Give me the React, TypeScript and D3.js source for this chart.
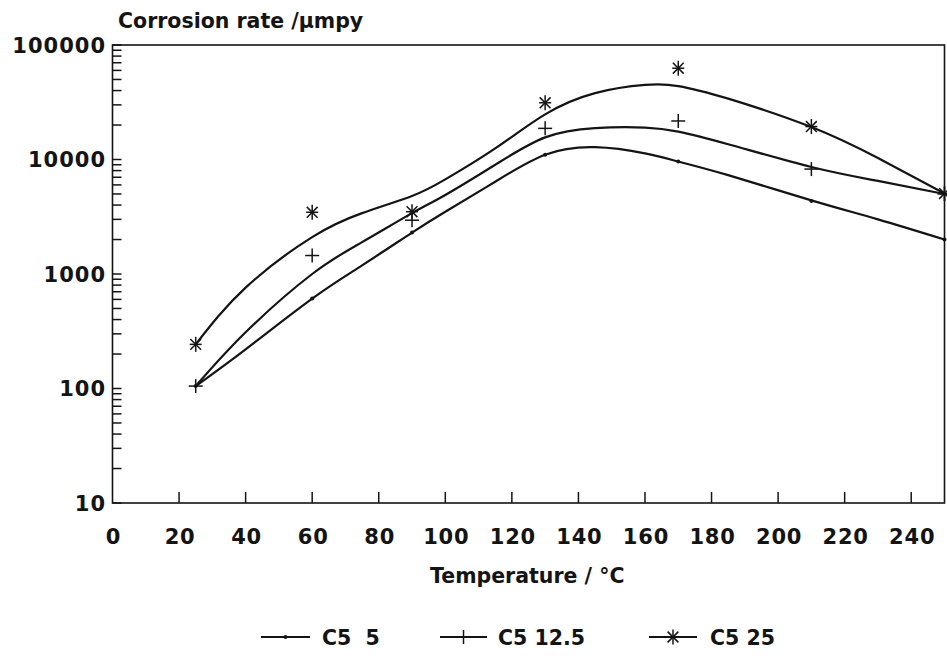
import React from 'react';
import * as d3 from 'd3';

// Tick values / labels
const xTickValues = [0, 20, 40, 60, 80, 100, 120, 140, 160, 180, 200, 220, 240];
const yTickValues = [10, 100, 1000, 10000, 100000];
const yTickLabels = ['10', '100', '1000', '10000', '100000'];

// Measured points (temperature °C -> corrosion rate µmpy)
const pointTemps = [25, 60, 90, 130, 170, 210, 250];
const pointsC5_5 = [105, 610, 2300, 11000, 9600, 4350, 2000];
const pointsC5_12 = [105, 1450, 2950, 18700, 21700, 8250, 5000];
const pointsC5_25 = [243, 3460, 3500, 31300, 62700, 19400, 5050];

// Fitted smooth curves
const curveTemps = [25, 40, 60, 75, 90, 100, 115, 130, 145, 160, 170, 185, 210, 230, 250];
const curveC5_5 = [105, 220, 610, 1190, 2300, 3500, 6400, 11000, 12800, 11300, 9600, 7300, 4400, 3000, 2000];
const curveC5_12 = [105, 310, 1000, 1900, 3400, 4900, 9000, 15600, 18800, 19000, 17500, 13600, 8600, 6500, 5000];
const curveC5_25 = [243, 760, 2100, 3400, 4800, 6700, 12500, 24800, 38000, 44800, 43800, 34000, 19200, 10300, 5050];

const seriesNames = ['C5  5', 'C5 12.5', 'C5 25'];
const seriesMarkers = ['dot', 'plus', 'star'];

const FONT = '"DejaVu Sans", sans-serif';
const INK = '#141414';

function Marker({ kind, cx, cy }: { kind: string; cx: number; cy: number }) {
  if (kind === 'dot') return <circle cx={cx} cy={cy} r={2} fill={INK} />;
  if (kind === 'plus') {
    const s = 7;
    return (
      <g stroke={INK} strokeWidth={1.5}>
        <line x1={cx - s} y1={cy} x2={cx + s} y2={cy} />
        <line x1={cx} y1={cy - s} x2={cx} y2={cy + s} />
      </g>
    );
  }
  const s = 7.5;
  const d = s * 0.72;
  return (
    <g stroke={INK} strokeWidth={1.5}>
      <line x1={cx} y1={cy - s} x2={cx} y2={cy + s} />
      <line x1={cx - d} y1={cy - d} x2={cx + d} y2={cy + d} />
      <line x1={cx - d} y1={cy + d} x2={cx + d} y2={cy - d} />
      <line x1={cx - s * 0.8} y1={cy} x2={cx + s * 0.8} y2={cy} />
    </g>
  );
}

export default function App() {
  const W = 947;
  const H = 656;
  const left = 112.5, right = 944.5, top = 45, bottom = 503;
  const x = d3.scaleLinear().domain([0, 250]).range([left, right]);
  const y = d3.scaleLog().domain([10, 100000]).range([bottom, top]);

  const line = d3
    .line<[number, number]>()
    .x((d) => x(d[0]))
    .y((d) => y(d[1]))
    .curve(d3.curveNatural);

  const curves = [curveC5_5, curveC5_12, curveC5_25];
  const points = [pointsC5_5, pointsC5_12, pointsC5_25];

  const minorTicks: number[] = [];
  for (let e = 1; e <= 4; e++) {
    for (let k = 1; k <= 9; k++) minorTicks.push(k * Math.pow(10, e));
  }
  minorTicks.push(100000);

  const legendLineX = [[261, 310], [440, 487], [649, 697]];
  const legendTextX = [322, 498, 710];
  const legendY = 637;

  return (
    <svg
      width={W}
      height={H}
      style={{ position: 'absolute', left: 0, top: 0, background: '#fff' }}
      fontFamily={FONT}
    >
      <rect x={0} y={0} width={W} height={H} fill="#fff" />
      {/* frame */}
      <rect x={left} y={top} width={right - left} height={bottom - top} fill="none" stroke={INK} strokeWidth={1.6} />
      {/* y minor ticks */}
      {minorTicks.map((v, i) => (
        <line key={'yt' + i} x1={left} x2={left + 9} y1={y(v)} y2={y(v)} stroke={INK} strokeWidth={1.5} />
      ))}
      {/* x ticks */}
      {xTickValues.filter((v) => v > 0).map((v) => (
        <line key={'xt' + v} x1={x(v)} x2={x(v)} y1={bottom} y2={bottom - 11} stroke={INK} strokeWidth={1.5} />
      ))}
      {/* x tick labels */}
      {xTickValues.map((v) => (
        <text key={'xl' + v} x={x(v) + 1} y={544} textAnchor="middle" fontSize={21} fontWeight="bold" fill={INK} letterSpacing={0.8}>
          {v}
        </text>
      ))}
      {/* y tick labels */}
      {yTickValues.map((v, i) => (
        <text key={'yl' + v} x={106} y={y(v) + 7.5} textAnchor="end" fontSize={21} fontWeight="bold" fill={INK} letterSpacing={1}>
          {yTickLabels[i]}
        </text>
      ))}
      {/* titles */}
      <text x={118} y={28} fontSize={20.5} fontWeight="bold" fill={INK}>
        Corrosion rate /µmpy
      </text>
      <text x={430} y={583} fontSize={20.5} fontWeight="bold" fill={INK}>
        Temperature / °C
      </text>
      {/* curves */}
      {curves.map((c, i) => (
        <path
          key={'c' + i}
          d={line(curveTemps.map((t, j) => [t, c[j]] as [number, number])) || ''}
          fill="none"
          stroke={INK}
          strokeWidth={2.2}
        />
      ))}
      {/* markers */}
      {points.map((p, i) =>
        pointTemps.map((t, j) => <Marker key={'m' + i + '_' + j} kind={seriesMarkers[i]} cx={x(t)} cy={y(p[j])} />)
      )}
      {/* legend */}
      {seriesNames.map((name, i) => (
        <g key={'lg' + i}>
          <line x1={legendLineX[i][0]} x2={legendLineX[i][1]} y1={legendY} y2={legendY} stroke={INK} strokeWidth={2} />
          <Marker kind={seriesMarkers[i]} cx={(legendLineX[i][0] + legendLineX[i][1]) / 2} cy={legendY} />
          <text x={legendTextX[i]} y={legendY + 8} fontSize={20.5} fontWeight="bold" fill={INK} style={{ whiteSpace: 'pre' }}>
            {name}
          </text>
        </g>
      ))}
    </svg>
  );
}
